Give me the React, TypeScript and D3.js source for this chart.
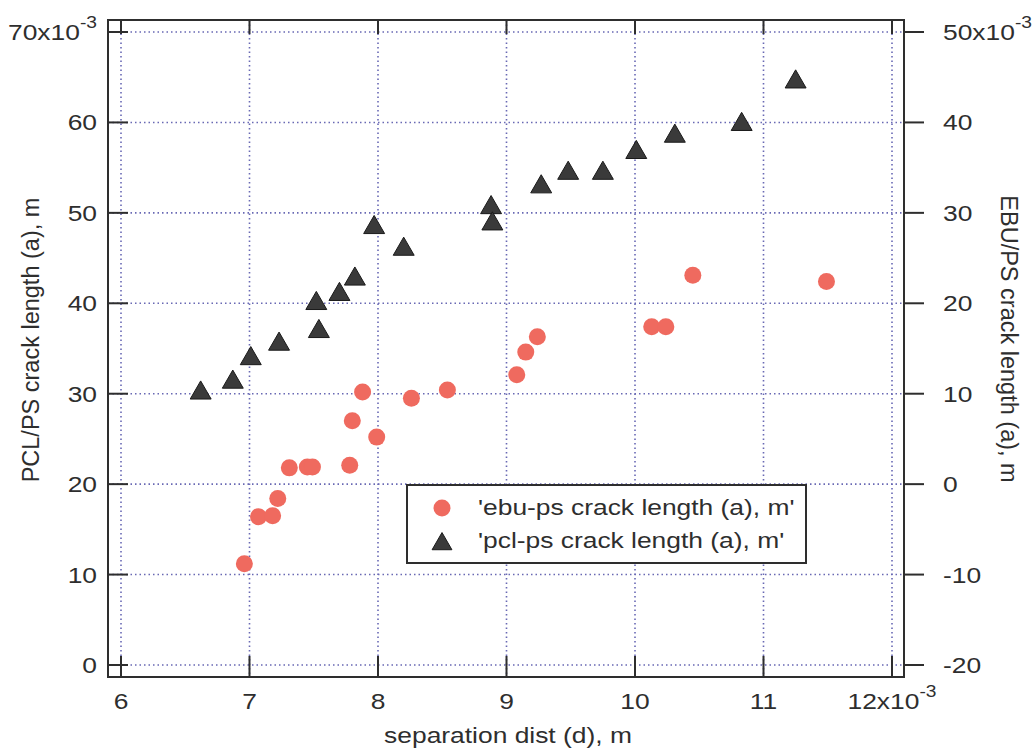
import React from 'react';
import { scaleLinear, symbol, symbolTriangle } from 'd3';

// pcl-ps crack length (left axis), x10^-3
const pclX = [6.62, 6.87, 7.01, 7.23, 7.52, 7.54, 7.7, 7.82, 7.97, 8.2, 8.88, 8.89, 9.27, 9.48, 9.75, 10.01, 10.31, 10.83, 11.25];
const pclY = [30.3, 31.5, 34.1, 35.7, 40.2, 37.1, 41.2, 42.9, 48.6, 46.2, 50.8, 49.0, 53.1, 54.6, 54.6, 56.9, 58.7, 60.0, 64.7];

// ebu-ps crack length (right axis), x10^-3
const ebuX = [6.96, 7.07, 7.18, 7.22, 7.31, 7.45, 7.49, 7.78, 7.8, 7.88, 7.99, 8.26, 8.54, 9.08, 9.15, 9.24, 10.13, 10.24, 10.45, 11.49];
const ebuY = [-8.8, -3.6, -3.5, -1.6, 1.8, 1.9, 1.9, 2.1, 7.0, 10.2, 5.2, 9.5, 10.4, 12.1, 14.6, 16.3, 17.4, 17.4, 23.1, 22.4];

const xTicks = [6, 7, 8, 9, 10, 11, 12];
const leftTicks = [0, 10, 20, 30, 40, 50, 60, 70];
const rightTicks = [-20, -10, 0, 10, 20, 30, 40, 50];

const legendLabels = ["'ebu-ps crack length (a), m'", "'pcl-ps crack length (a), m'"];

const W = 1033;
const H = 750;
const frame = { left: 108, right: 904, top: 20, bottom: 677 };
const font = '"Liberation Sans", Arial, Helvetica, sans-serif';
const ink = '#2e2e2e';
const gridColor = '#4f4fa8';
const dotColor = '#ef6a5f';
const SX = 1.2; // the scan is stretched sideways, so horizontal text is too
const FS = 22;

// horizontal text, widened to match the scan
const HText = ({ x, y, anchor = 'start', size = FS, children }: any) => (
  <text transform={`translate(${x},${y}) scale(${SX},1)`} textAnchor={anchor} fontSize={size} fill={ink}>
    {children}
  </text>
);

// "NNx10^-3" label; anchor position refers to the whole label
const expLabel = (v: number, x: number, y: number, anchor: 'start' | 'middle' | 'end') => {
  const mainW = String(v).length * 0.556 * FS * SX + (0.5 + 0.556 * 2) * FS * SX;
  const supW = (0.333 + 0.556) * 16 * SX;
  const total = mainW + supW;
  const x0 = anchor === 'start' ? x : anchor === 'middle' ? x - total / 2 : x - total;
  return (
    <g key={'exp' + v + x}>
      <HText x={x0} y={y}>{`${v}x10`}</HText>
      <HText x={x0 + mainW} y={y - 12} size={16}>-3</HText>
    </g>
  );
};

const App = () => {
  const x = scaleLinear().domain([6, 12]).range([121, 892]);
  const yL = scaleLinear().domain([0, 70]).range([665, 32]);
  const yR = scaleLinear().domain([-20, 50]).range([665, 32]);
  const tri = symbol().type(symbolTriangle).size(190)();
  const triSmall = symbol().type(symbolTriangle).size(170)();

  return (
    <div style={{ position: 'absolute', left: 0, top: 0 }}>
      <svg width={W} height={H} style={{ display: 'block', background: '#fff' }} fontFamily={font}>
        {/* grid */}
        <g stroke={gridColor} strokeWidth={1.6} strokeDasharray="1.5 3" opacity={0.85}>
          {xTicks.map((t) => (
            <line key={'gx' + t} x1={x(t)} x2={x(t)} y1={frame.top} y2={frame.bottom} />
          ))}
          {leftTicks.map((t) => (
            <line key={'gy' + t} x1={frame.left} x2={frame.right} y1={yL(t)} y2={yL(t)} />
          ))}
        </g>

        {/* frame */}
        <rect
          x={frame.left}
          y={frame.top}
          width={frame.right - frame.left}
          height={frame.bottom - frame.top}
          fill="none"
          stroke={ink}
          strokeWidth={2}
        />

        {/* ticks: bottom inward + top mirror, left inward, right outward */}
        <g stroke={ink} strokeWidth={2}>
          {xTicks.map((t) => (
            <g key={'xt' + t}>
              <line x1={x(t)} x2={x(t)} y1={frame.bottom} y2={frame.bottom - 21} />
              <line x1={x(t)} x2={x(t)} y1={frame.top} y2={frame.top + 14} />
            </g>
          ))}
          {leftTicks.map((t) => (
            <line key={'lt' + t} x1={frame.left} x2={frame.left + 20} y1={yL(t)} y2={yL(t)} />
          ))}
          {rightTicks.map((t) => (
            <line key={'rt' + t} x1={frame.right} x2={frame.right + 20} y1={yR(t)} y2={yR(t)} />
          ))}
        </g>

        {/* tick labels */}
        <g>
          {xTicks.map((t, i) =>
            i === xTicks.length - 1 ? (
              expLabel(t, x(t), 709, 'middle')
            ) : (
              <HText key={'xl' + t} x={x(t)} y={709} anchor="middle">{t}</HText>
            )
          )}
          {leftTicks.map((t, i) =>
            i === leftTicks.length - 1 ? (
              expLabel(t, 97, yL(t) + 8, 'end')
            ) : (
              <HText key={'ll' + t} x={97} y={yL(t) + 8} anchor="end">{t}</HText>
            )
          )}
          {rightTicks.map((t, i) =>
            i === rightTicks.length - 1 ? (
              expLabel(t, 943, yR(t) + 8, 'start')
            ) : (
              <HText key={'rl' + t} x={943} y={yR(t) + 8}>{t}</HText>
            )
          )}
        </g>

        {/* axis titles */}
        <HText x={508} y={743} anchor="middle">separation dist (d), m</HText>
        <g fill={ink} fontSize={23.5}>
          <text transform="translate(39,340) rotate(-90)" textAnchor="middle">PCL/PS crack length (a), m</text>
          <text transform="translate(1001,339) rotate(90)" textAnchor="middle">EBU/PS crack length (a), m</text>
        </g>

        {/* ebu-ps circles on right axis */}
        <g fill={dotColor}>
          {ebuX.map((v, i) => (
            <circle key={'c' + i} cx={x(v)} cy={yR(ebuY[i])} r={8.5} />
          ))}
        </g>

        {/* pcl-ps triangles on left axis */}
        <g fill="#3a3a3a" stroke="#1a1a1a" strokeWidth={1}>
          {pclX.map((v, i) => (
            <path key={'t' + i} d={tri} transform={`translate(${x(v)},${yL(pclY[i]) + 2})`} />
          ))}
        </g>

        {/* legend */}
        <g>
          <rect x={407} y={485} width={399} height={78} fill="#fff" stroke={ink} strokeWidth={2} />
          <circle cx={442} cy={508} r={8.5} fill={dotColor} />
          <path d={triSmall} transform="translate(442,544)" fill="#3a3a3a" stroke="#1a1a1a" strokeWidth={1} />
          {legendLabels.map((l, i) => (
            <HText key={l} x={478} y={515 + i * 33}>{l}</HText>
          ))}
        </g>
      </svg>
    </div>
  );
};

export default App;
